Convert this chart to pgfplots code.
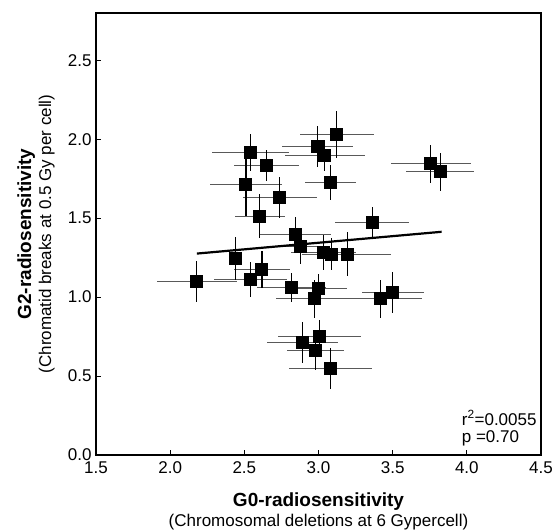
\documentclass[border=0pt]{standalone}
\usepackage{pgfplots}
\pgfplotsset{compat=1.18}
\usepackage{pgfplotstable}
\usepackage{fontspec}
\setmainfont{Liberation Sans}

\pgfplotstableread{
x      y      ex     ey
2.180  1.101  0.27   0.13
2.439  1.243  0.03   0.135
2.541  1.916  0.26   0.12
2.651  1.833  0.22   0.10
2.511  1.713  0.24   0.20
2.739  1.633  0.25   0.13
2.604  1.513  0.17   0.14
2.991  1.956  0.24   0.13
3.122  2.032  0.25   0.15
3.041  1.897  0.27   0.10
3.081  1.726  0.17   0.11
3.757  1.844  0.27   0.12
3.820  1.793  0.23   0.12
3.363  1.473  0.25   0.10
2.842  1.395  0.24   0.11
2.878  1.319  0.15   0.11
3.032  1.281  0.22   0.11
3.086  1.272  0.20   0.10
3.198  1.272  0.29   0.14
2.619  1.175  0.19   0.12
2.541  1.112  0.245  0.11
2.818  1.061  0.23   0.09
3.002  1.053  0.19   0.095
2.973  0.989  0.26   0.12
3.419  0.989  0.28   0.12
3.500  1.030  0.21   0.13
2.894  0.711  0.24   0.13
3.009  0.753  0.28   0.10
2.980  0.660  0.19   0.12
3.081  0.549  0.28   0.13
}\datatable

\begin{document}
\begin{tikzpicture}
\begin{axis}[
  name=ax,
  scale only axis,
  width=445bp, height=442bp,
  xmin=1.5, xmax=4.5, ymin=0, ymax=2.8,
  xtick={1.5,2.0,2.5,3.0,3.5,4.0,4.5},
  ytick={0,0.5,1.0,1.5,2.0,2.5},
  tick pos=left,
  tick align=inside,
  major tick length=5bp,
  axis line style={line width=1.2bp},
  every tick/.style={black, line width=1bp},
  /pgf/number format/assume math mode=true,
  /pgf/number format/.cd, fixed, fixed zerofill, precision=1,
  /pgfplots/.cd,
  tick label style={font=\fontsize{17bp}{19bp}\selectfont},
  xticklabel style={yshift=-3bp},
  yticklabel style={xshift=-1bp},
  xlabel={\textbf{\fontsize{19bp}{20bp}\selectfont G0-radiosensitivity}\\(Chromosomal deletions at 6 Gypercell)},
  xlabel style={at={(axis description cs:0.5,0)}, anchor=center, yshift=-56.5bp, align=center, font=\fontsize{17bp}{20bp}\selectfont},
  ylabel={\textbf{\fontsize{19bp}{20bp}\selectfont G2-radiosensitivity}\\(Chromatid breaks at 0.5 Gy per cell)},
  ylabel style={at={(axis description cs:-0.135,0.5)}, anchor=center, align=center, font=\fontsize{17bp}{20bp}\selectfont},
  clip=false,
]
% horizontal error bars
\addplot[only marks, mark=none, draw=black!65,
  error bars/.cd, x dir=both, x explicit, error mark=none,
  error bar style={line width=1bp, black!65}]
  table[x=x, y=y, x error=ex] {\datatable};
% vertical error bars
\addplot[only marks, mark=none, draw=black,
  error bars/.cd, y dir=both, y explicit, error mark=none,
  error bar style={line width=1.1bp, black}]
  table[x=x, y=y, y error=ey] {\datatable};
% markers
\addplot[only marks, mark=square*, mark size=6bp, mark options={fill=black, draw=black, line width=0pt}]
  table[x=x, y=y] {\datatable};
% regression line
\addplot[black, line width=2.2bp, no marks] coordinates {(2.18,1.276) (3.83,1.414)};
\node[anchor=base west, inner sep=0pt, font=\fontsize{17bp}{19bp}\selectfont] at (axis cs:3.965,0.19) {r\textsuperscript{2}=0.0055};
\node[anchor=base west, inner sep=0pt, font=\fontsize{17bp}{19bp}\selectfont] at (axis cs:3.965,0.078) {p =0.70};
\end{axis}
\pgfresetboundingbox
\path ([shift={(-96bp,-76bp)}]ax.south west) rectangle ([shift={(13bp,13bp)}]ax.north east);
\end{tikzpicture}
\end{document}
